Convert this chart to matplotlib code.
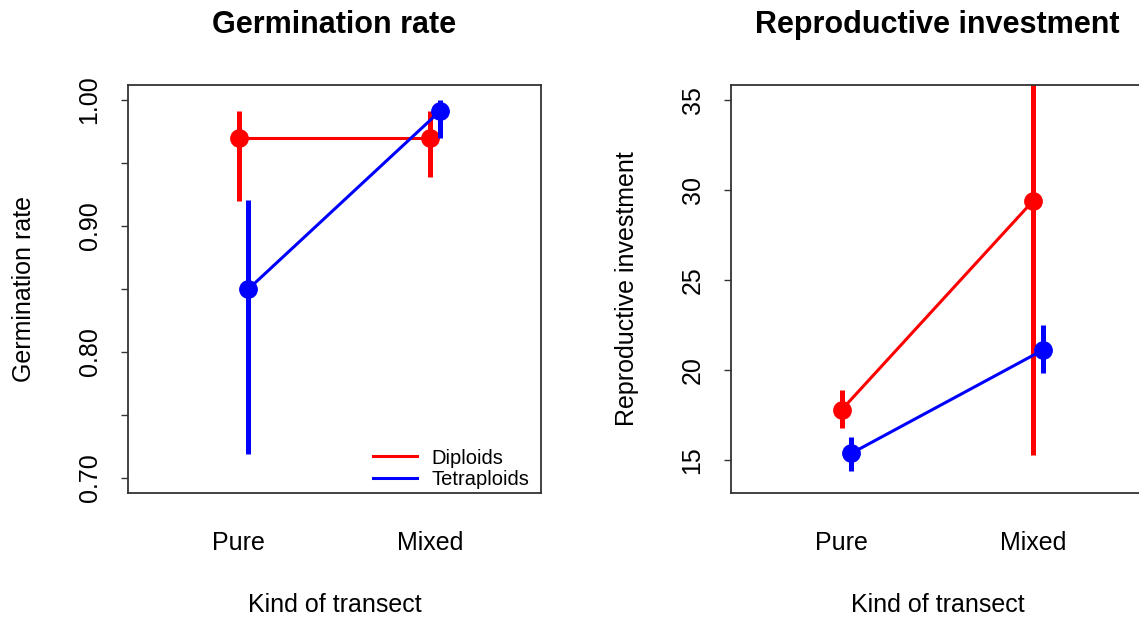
import matplotlib.pyplot as plt

plt.rcParams['font.family'] = ['Liberation Sans', 'DejaVu Sans']

groups = ['Pure', 'Mixed']
series = ['Diploids', 'Tetraploids']
colors = ['red', 'blue']

# germination rate: mean, lower, upper
germ_dip_mean = [0.970, 0.970]
germ_dip_lo = [0.920, 0.939]
germ_dip_hi = [0.991, 0.991]
germ_tet_mean = [0.850, 0.991]
germ_tet_lo = [0.719, 0.970]
germ_tet_hi = [0.921, 1.000]

# reproductive investment: mean, lower, upper
rep_dip_mean = [17.8, 29.4]
rep_dip_lo = [16.8, 15.3]
rep_dip_hi = [18.9, 43.5]
rep_tet_mean = [15.37, 21.1]
rep_tet_lo = [14.4, 19.83]
rep_tet_hi = [16.3, 22.48]

offsets = [0.0, 0.05]

fig = plt.figure(figsize=(11.39, 6.18), dpi=100)
W, H = 1139, 618
ax1 = fig.add_axes([128 / W, (H - 493) / H, 413 / W, 408 / H])
ax2 = fig.add_axes([731 / W, (H - 493) / H, 413 / W, 408 / H])


def panel(ax, title, ylab, ylim, yticks, ytl, data):
    x = [1, 2]
    for i, (m, lo, hi) in enumerate(data):
        xs = [v + offsets[i] for v in x]
        ax.plot(xs, m, color=colors[i], lw=2.2, label=series[i], zorder=2 + i)
        ax.vlines(xs, lo, hi, color=colors[i], lw=3.6, zorder=2 + i)
        ax.plot(xs, m, 'o', color=colors[i], ms=12.5, zorder=2 + i)
    ax.set_xlim(0.42, 2.58)
    r = ylim[1] - ylim[0]
    ax.set_ylim(ylim[0] - 0.04 * r, ylim[1] + 0.04 * r)
    ax.set_xticks(x)
    ax.set_xticklabels(groups, fontsize=18)
    ax.tick_params(axis='x', length=0, pad=27)
    ax.set_yticks(yticks)
    ax.set_yticklabels(ytl, fontsize=18, rotation=90, va='center')
    ax.tick_params(axis='y', length=5, width=1, pad=14, color='#333333')
    for s in ax.spines.values():
        s.set_linewidth(1.3)
        s.set_color('#333333')
    ax.set_title(title, fontsize=22, fontweight='bold', pad=37.5)
    ax.set_xlabel('Kind of transect', fontsize=18, labelpad=27.5)
    ax.set_ylabel(ylab, fontsize=18, labelpad=30)


panel(ax1, 'Germination rate', 'Germination rate', (0.7, 1.0),
      [0.70, 0.75, 0.80, 0.85, 0.90, 0.95, 1.00],
      ['0.70', '', '0.80', '', '0.90', '', '1.00'],
      [(germ_dip_mean, germ_dip_lo, germ_dip_hi),
       (germ_tet_mean, germ_tet_lo, germ_tet_hi)])

panel(ax2, 'Reproductive investment', 'Reproductive investment', (14, 35),
      [15, 20, 25, 30, 35], ['15', '20', '25', '30', '35'],
      [(rep_dip_mean, rep_dip_lo, rep_dip_hi),
       (rep_tet_mean, rep_tet_lo, rep_tet_hi)])

ax1.legend(loc='lower right', bbox_to_anchor=(0.972, 0.01), frameon=False,
           fontsize=14.5, handlelength=2.2, handletextpad=0.7, labelspacing=0.12,
           borderpad=0, borderaxespad=0)

fig.savefig('out.png', dpi=100)
